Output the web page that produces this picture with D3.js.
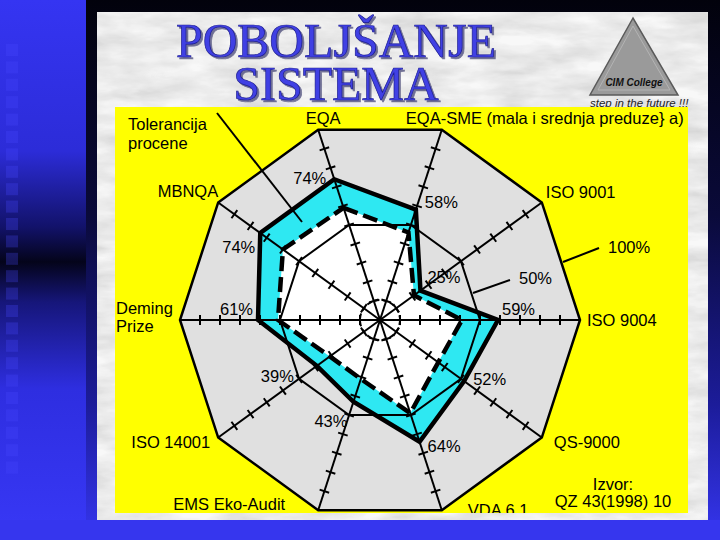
<!DOCTYPE html>
<html><head><meta charset="utf-8">
<script src="https://cdn.jsdelivr.net/npm/d3@7"></script>
<style>html,body{margin:0;padding:0;background:#000;} svg{display:block;}</style>
</head><body>
<svg id="c" width="720" height="540"></svg>
<script>
// ---------- data ----------
const categories = ["EQA", "EQA-SME (mala i srednja preduze} a)", "ISO 9001", "ISO 9004", "QS-9000",
                    "VDA 6.1", "EMS Eko-Audit", "ISO 14001", "Deming\nPrize", "MBNQA"];
const assessed   = [74, 58, 25, 59, 52, 64, 43, 39, 61, 74];   // solid thick line
const lowerBound = [59, 46, 21, 41, 36, 49, 31, 31, 51, 60];   // dashed line (tolerance)
const refRing    = [50];                                     // thin reference ring
const maxValue   = 100;
const tickValues = [10, 20, 30, 40, 50, 60, 70, 80, 90];
const pctLabels  = assessed.map(v => v + "%");
const titleLines = ["POBOLJŠANJE", "SISTEMA"];

// ---------- layout ----------
const svg = d3.select("#c");
const W = 720, H = 540, cx = 380, cy = 320, R = 200;
const defs = svg.append("defs");

const gL = defs.append("linearGradient").attr("id","gl").attr("x1",0).attr("y1",0).attr("x2",0).attr("y2",1);
[[0,"#3535f2"],[0.28,"#2c2cd8"],[0.42,"#12126a"],[0.485,"#04041a"],[0.56,"#16167a"],[0.72,"#2e2ee0"],[1,"#3838f6"]]
  .forEach(([o,c]) => gL.append("stop").attr("offset",o).attr("stop-color",c));
const gR = defs.append("linearGradient").attr("id","gr").attr("x1",0).attr("y1",0).attr("x2",0).attr("y2",1);
[[0,"#02020c"],[0.4,"#0a0a3a"],[0.75,"#1c1c9a"],[1,"#3636f0"]]
  .forEach(([o,c]) => gR.append("stop").attr("offset",o).attr("stop-color",c));

const mf = defs.append("filter").attr("id","marble").attr("x",0).attr("y",0).attr("width","100%").attr("height","100%");
mf.append("feTurbulence").attr("type","fractalNoise").attr("baseFrequency","0.018 0.06").attr("numOctaves",4).attr("seed",7).attr("result","n");
mf.append("feColorMatrix").attr("type","matrix")
  .attr("values","0.33 0.33 0.33 0 0  0.33 0.33 0.33 0 0  0.33 0.33 0.33 0 0  0 0 0 0 1");
const ct = mf.append("feComponentTransfer");
["feFuncR","feFuncG","feFuncB"].forEach(f => ct.append(f).attr("type","linear").attr("slope",0.9).attr("intercept",0.42));

const sh = defs.append("filter").attr("id","tshadow").attr("x","-5%").attr("y","-10%").attr("width","115%").attr("height","130%");
sh.append("feDropShadow").attr("dx",2).attr("dy",2).attr("stdDeviation",0.6).attr("flood-color","#20205a").attr("flood-opacity",0.6);

svg.append("rect").attr("width",W).attr("height",H).attr("fill","url(#gr)");
svg.append("rect").attr("x",0).attr("y",0).attr("width",86).attr("height",H).attr("fill","url(#gl)");
d3.range(0, 25).forEach(k => {
  svg.append("rect").attr("x",6).attr("y",44 + k*17.4).attr("width",12).attr("height",12)
    .attr("fill","#4848ff").attr("opacity",0.28);
});
svg.append("rect").attr("x",0).attr("y",520).attr("width",W).attr("height",20).attr("fill","#3636ee");
svg.append("rect").attr("x",97).attr("y",12).attr("width",611).attr("height",508).attr("fill","#d6d6d6");
svg.append("rect").attr("x",97).attr("y",12).attr("width",611).attr("height",508).attr("filter","url(#marble)").attr("opacity",0.85);

// title
const title = svg.append("g").attr("font-family","'Liberation Serif', 'Times New Roman', serif")
  .attr("font-size",48).attr("text-anchor","middle").attr("filter","url(#tshadow)");
title.append("text").attr("x",336).attr("y",57).attr("fill","#4141e4").attr("stroke","#1c1c90").attr("stroke-width",0.7)
  .selectAll("tspan").data(titleLines).join("tspan").attr("x",336).attr("dy",(d,i) => i ? 43 : 0).text(d => d);

// logo
svg.append("path").attr("d","M633,18 L590,95 L678,95 Z").attr("fill","#9a9a9a").attr("stroke","#5a5a5a").attr("stroke-width",1.5);
svg.append("path").attr("d","M633,26 L598,90 L670,90 Z").attr("fill","none").attr("stroke","#b4b4b4").attr("stroke-width",1);
svg.append("text").attr("x",634).attr("y",86).attr("text-anchor","middle")
  .attr("font-family","'Liberation Sans', Arial, sans-serif").attr("font-size",10).attr("font-style","italic")
  .attr("font-weight","bold").attr("fill","#111").text("CIM College");
svg.append("text").attr("x",590).attr("y",107)
  .attr("font-family","'Liberation Sans', Arial, sans-serif").attr("font-size",11.5).attr("font-style","italic")
  .attr("fill","#222").text("step in the future !!!");

// yellow panel
svg.append("rect").attr("x",115).attr("y",107).attr("width",573).attr("height",406).attr("fill","#ffff00");

// ---------- radar ----------
const r = d3.scaleLinear().domain([0, maxValue]).range([0, R]);
const n = categories.length;
const angle = d3.scaleLinear().domain([0, n]).range([-Math.PI/10, 2*Math.PI - Math.PI/10]);
const pt = (i, v) => [cx + r(v)*Math.sin(angle(i)), cy - r(v)*Math.cos(angle(i))];
const radial = d3.lineRadial().angle((d,i) => angle(i)).radius(d => r(d)).curve(d3.curveLinearClosed);

const g = svg.append("g").attr("transform", `translate(${cx},${cy})`);
const full = categories.map(() => maxValue);

g.append("path").attr("d", radial(full)).attr("fill","#e0e0e0");
g.append("path").attr("d", radial(assessed)).attr("fill","#2ee8f2");
g.append("path").attr("d", radial(lowerBound)).attr("fill","#ffffff");
refRing.forEach(v => g.append("path").attr("d", radial(categories.map(() => v)))
  .attr("fill","none").attr("stroke","#000").attr("stroke-width",2));
g.append("path").attr("d", radial(full)).attr("fill","none").attr("stroke","#000").attr("stroke-width",2.5).attr("stroke-linejoin","miter");

categories.forEach((c, i) => {
  const [x2, y2] = pt(i, maxValue);
  svg.append("line").attr("x1",cx).attr("y1",cy).attr("x2",x2).attr("y2",y2).attr("stroke","#000").attr("stroke-width",2);
  const a = angle(i), nx = Math.cos(a), ny = Math.sin(a);
  tickValues.forEach(t => {
    const [px, py] = pt(i, t);
    svg.append("line").attr("x1",px - 5*nx).attr("y1",py - 5*ny).attr("x2",px + 5*nx).attr("y2",py + 5*ny)
      .attr("stroke","#000").attr("stroke-width",2);
  });
});
g.append("circle").attr("r", r(10)).attr("fill","none").attr("stroke","#000").attr("stroke-width",2).attr("stroke-dasharray","5,3");

g.append("path").attr("d", radial(assessed)).attr("fill","none").attr("stroke","#000").attr("stroke-width",4.5).attr("stroke-linejoin","miter");
g.append("path").attr("d", radial(lowerBound)).attr("fill","none").attr("stroke","#000").attr("stroke-width",4.5)
  .attr("stroke-dasharray","15,6");

// ---------- text ----------
const font = "'Liberation Sans', Arial, sans-serif";
const T = svg.append("g").attr("font-family", font).attr("font-size", 16.5).attr("fill","#000");
defs.append("clipPath").attr("id","yc").append("rect").attr("x",115).attr("y",107).attr("width",573).attr("height",406);

const catPlace = [
  {dx: 5,   dy: -6,  a: "middle"},
  {dx: -36, dy: -6,  a: "start"},
  {dx: 4,   dy: -4,  a: "start"},
  {dx: 7,   dy: 6,   a: "start"},
  {dx: 12,  dy: 10,  a: "start"},
  {dx: 26,  dy: 6,   a: "start"},
  {dx: -33, dy: 0,   a: "end"},
  {dx: -8,  dy: 10,  a: "end"},
  {dx: -64, dy: -6,  a: "start"},
  {dx: 0,   dy: -5,  a: "end"}
];
categories.forEach((c, i) => {
  const [vx, vy] = pt(i, maxValue), p = catPlace[i];
  const t = T.append("text").attr("x", vx + p.dx).attr("y", vy + p.dy).attr("text-anchor", p.a).attr("clip-path","url(#yc)");
  c.split("\n").forEach((line, k) => t.append("tspan").attr("x", vx + p.dx).attr("dy", k ? 18 : 0).text(line));
});

const pctPlace = [
  {dx: -8, dy: 5,  a: "end"},
  {dx: 9,  dy: -2, a: "start"},
  {dx: 7,  dy: -8, a: "start"},
  {dx: 4,  dy: -5, a: "start"},
  {dx: 9,  dy: 4,  a: "start"},
  {dx: 8,  dy: 10, a: "start"},
  {dx: -6, dy: 25, a: "end"},
  {dx: -23, dy: 16, a: "end"},
  {dx: -5, dy: -5, a: "end"},
  {dx: -5, dy: 20, a: "end"}
];
pctLabels.forEach((l, i) => {
  const [vx, vy] = pt(i, assessed[i]), p = pctPlace[i];
  T.append("text").attr("x", vx + p.dx).attr("y", vy + p.dy).attr("text-anchor", p.a).text(l);
});

const ann = svg.append("g").attr("stroke","#000").attr("stroke-width",2);
ann.append("line").attr("x1",217).attr("y1",113).attr("x2",302).attr("y2",222);
ann.append("line").attr("x1",563).attr("y1",262).attr("x2",599).attr("y2",248);
ann.append("line").attr("x1",473).attr("y1",293).attr("x2",510).attr("y2",280);
T.append("text").attr("x",128).attr("y",130).text("Tolerancija");
T.append("text").attr("x",128).attr("y",149).text("procene");
T.append("text").attr("x",608).attr("y",253).text("100%");
T.append("text").attr("x",519).attr("y",284).text("50%");
T.append("text").attr("x",613).attr("y",490).attr("text-anchor","middle").text("Izvor:");
T.append("text").attr("x",613).attr("y",507).attr("text-anchor","middle").text("QZ 43(1998) 10");
</script>
</body></html>
